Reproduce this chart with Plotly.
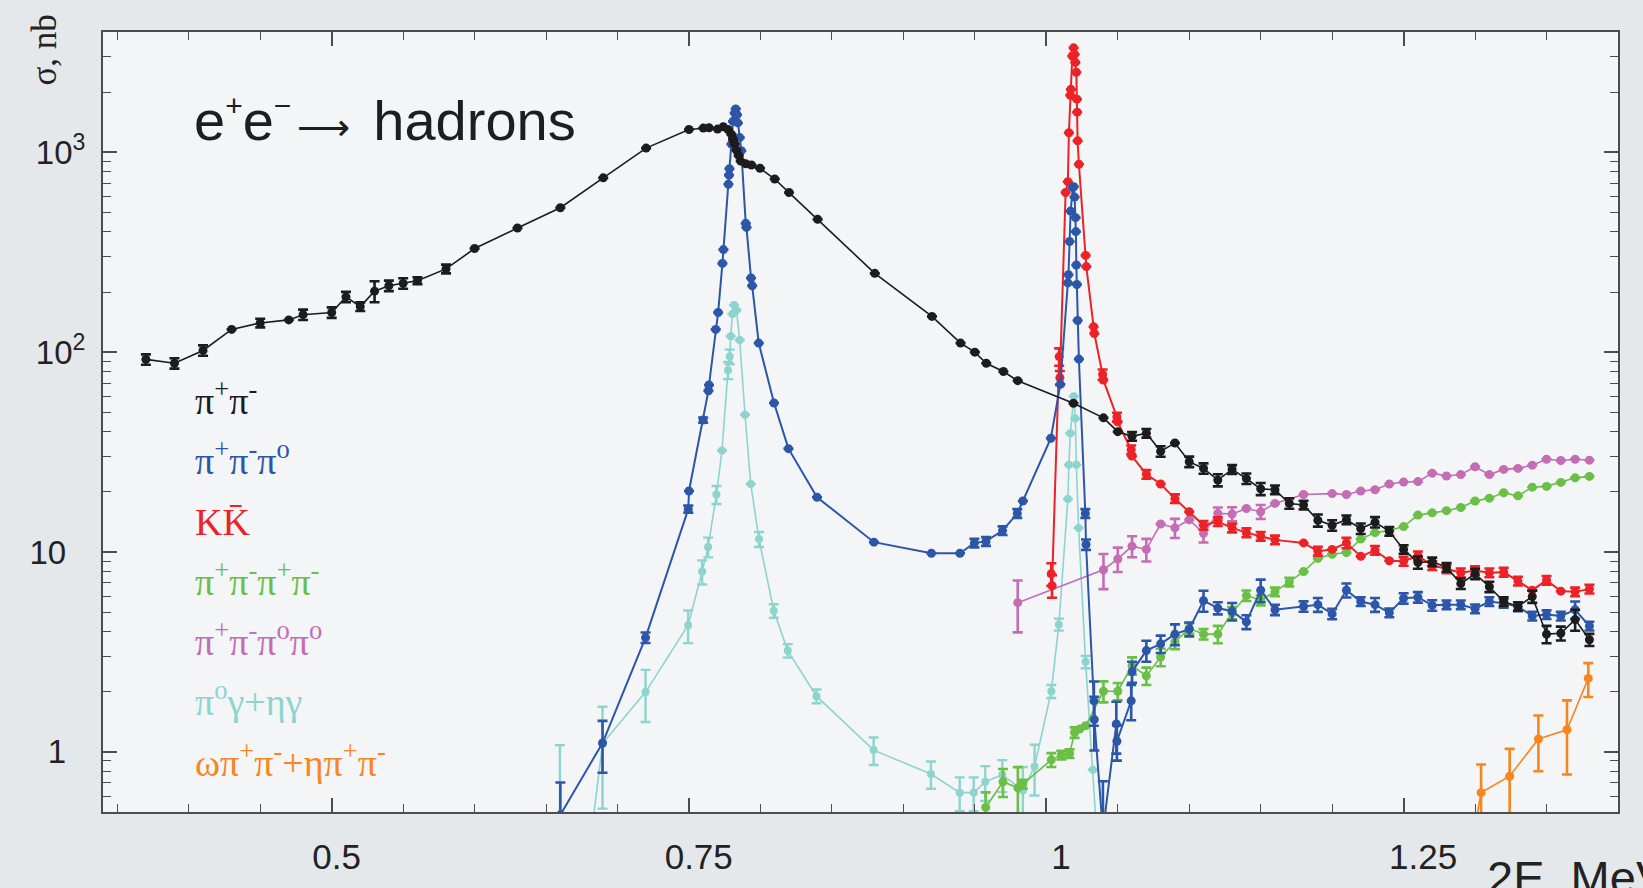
import plotly.graph_objects as go

# ---------------- data ----------------
# pi+ pi-  (black)
x_pipi = [0.37, 0.39, 0.41, 0.43, 0.45, 0.47, 0.48, 0.50, 0.51, 0.52, 0.53, 0.54, 0.55, 0.56, 0.58,
          0.60, 0.63, 0.66, 0.69, 0.72,
          0.75, 0.76, 0.764, 0.770, 0.774, 0.7773, 0.7797, 0.7808, 0.7820, 0.7832, 0.7848, 0.7862,
          0.7897, 0.7937, 0.7997, 0.810, 0.820,
          0.84, 0.88, 0.92, 0.94, 0.95, 0.958, 0.97, 0.98, 1.019, 1.04, 1.05,
          1.06, 1.07, 1.08, 1.09, 1.10, 1.11, 1.12, 1.13, 1.14, 1.15, 1.16, 1.17, 1.18, 1.19, 1.20,
          1.21, 1.22, 1.23, 1.24, 1.25, 1.26, 1.27, 1.28, 1.29, 1.30, 1.31, 1.32, 1.33, 1.34, 1.35,
          1.36, 1.37, 1.38]
y_pipi = [92, 88, 102, 130, 140, 145, 154, 158, 189, 169, 202, 215, 221, 228, 261, 330, 418, 528, 745, 1050,
          1300, 1322, 1327, 1307, 1342, 1301, 1230, 1162, 1099, 1026, 963, 904, 877, 864, 832, 735, 629,
          462, 248, 151, 111, 100, 88, 80, 72, 55.5, 46.9, 40.0,
          37.9, 39.3, 31.9, 35.1, 28.3, 26.2, 22.9, 25.9, 23.3, 20.7, 20.5, 17.5, 17.2, 14.4, 13.6,
          14.5, 13.1, 14.1, 12.7, 10.3, 8.87, 8.93, 8.39, 6.95, 7.78, 6.70, 5.65, 5.34, 5.98, 3.88,
          3.92, 4.59, 3.64]
relerr_pipi = [0.06, 0.06, 0.06, 0, 0.05, 0, 0.06, 0.06, 0.06, 0.05, 0.12, 0.06, 0.06, 0.04, 0.05,
               0, 0, 0, 0, 0,
               0, 0, 0, 0, 0, 0, 0, 0, 0, 0, 0, 0, 0, 0, 0, 0, 0,
               0, 0, 0, 0, 0, 0, 0, 0, 0, 0, 0,
               0.05, 0.05, 0.06, 0, 0.06, 0.06, 0.07, 0.05, 0.06, 0.07, 0.05, 0.06, 0.05, 0.07, 0.06,
               0.05, 0.06, 0.06, 0.05, 0.05, 0.07, 0.05, 0.05, 0.06, 0.06, 0.06, 0.05, 0.05, 0.07, 0.10,
               0.08, 0.12, 0.07]

# pi+ pi- pi0  (blue)
x_3pi = [0.660, 0.6895, 0.7196, 0.7495, 0.7500, 0.7599, 0.7636, 0.7640, 0.7687, 0.7704, 0.7734, 0.7741,
         0.7776, 0.7780, 0.7783, 0.7797, 0.7808, 0.7820, 0.7827, 0.7836, 0.7842, 0.7855, 0.7866,
         0.7897, 0.7902, 0.7934, 0.7942, 0.7988, 0.8095, 0.8196, 0.8396, 0.8794, 0.9196, 0.9396,
         0.9497, 0.9578, 0.9694, 0.9797, 0.9836, 1.0032, 1.0098,
         1.0151, 1.0155, 1.0163, 1.0170, 1.0186, 1.0192, 1.0198, 1.0205, 1.0207, 1.0210, 1.0214,
         1.0219, 1.0228, 1.0273, 1.0278, 1.0333, 1.0336, 1.0396, 1.0490, 1.0494, 1.0594, 1.0600,
         1.07, 1.08, 1.09, 1.10, 1.11, 1.12, 1.13, 1.14, 1.15, 1.16, 1.18, 1.19, 1.20, 1.21, 1.22,
         1.23, 1.24, 1.25, 1.26, 1.27, 1.28, 1.29, 1.30, 1.31, 1.32, 1.33, 1.34, 1.35, 1.36, 1.37, 1.38]
y_3pi = [0.484, 1.107, 3.73, 16.4, 20.2, 45.7, 64.1, 68.5, 130, 158, 278, 326,
         692, 769, 828, 1099, 1429, 1571, 1649, 1541, 1403, 1185, 1019,
         441, 421, 235, 215, 111, 55.7, 32.9, 18.8, 11.2, 9.86, 9.86,
         11.1, 11.3, 12.8, 15.6, 18.0, 37.1, 69.0,
         222, 244, 358, 508, 666, 673, 597, 471, 401, 273, 218,
         144, 92.3, 15.6, 10.9, 1.80, 1.45, 0.40, 1.38, 1.13, 1.80, 2.52,
         3.21, 3.47, 3.88, 4.11, 5.71, 5.24, 5.05, 4.47, 6.44, 5.14, 5.34, 5.45, 4.90, 6.44, 5.65,
         5.45, 4.96, 5.87, 5.94, 5.41, 5.45, 5.45, 5.20, 5.65, 5.54, 5.34, 4.78, 4.86, 4.78, 5.14, 4.26]
relerr_3pi = [0.45, 0.29, 0.06, 0.04, 0, 0.03, 0, 0, 0, 0, 0, 0,
              0, 0, 0, 0, 0, 0, 0, 0, 0, 0, 0,
              0, 0, 0, 0, 0, 0, 0, 0, 0, 0, 0,
              0.05, 0.05, 0.05, 0.05, 0, 0, 0,
              0, 0, 0, 0, 0, 0, 0, 0, 0, 0, 0,
              0, 0, 0.05, 0.06, 0.25, 0.30, 0.78, 0.29, 0.20, 0.20, 0.12,
              0.12, 0.10, 0.12, 0.08, 0.12, 0.07, 0.10, 0.08, 0.13, 0.06, 0.06, 0.08, 0.06, 0.08, 0.05,
              0.08, 0.05, 0.06, 0.06, 0.06, 0.05, 0.05, 0.05, 0.05, 0.05, 0.05, 0.05, 0.05, 0.05, 0.10, 0.05]

# K Kbar  (red)
x_kk = [1.0035, 1.0040, 1.0090, 1.0095, 1.0135, 1.0151, 1.0158, 1.0168, 1.0172, 1.0182, 1.0191, 1.0198,
        1.0203, 1.0210, 1.0214, 1.0216, 1.0219, 1.0228, 1.0275, 1.0280, 1.0331, 1.0336, 1.0394, 1.0399,
        1.0494, 1.0499, 1.0594, 1.0599,
        1.07, 1.08, 1.09, 1.10, 1.11, 1.12, 1.13, 1.14, 1.15, 1.16, 1.18, 1.19, 1.20, 1.21, 1.22,
        1.23, 1.24, 1.25, 1.26, 1.27, 1.28, 1.29, 1.30, 1.31, 1.32, 1.33, 1.34, 1.35, 1.36, 1.37, 1.38]
y_kk = [7.78, 6.78, 95, 74.5, 629, 713, 1253, 1931, 2066, 3034, 3334, 3090,
        2818, 2517, 1845, 1588, 1141, 871, 305, 268, 134, 124, 77.3, 72.6,
        47.4, 44.8, 32.5, 30.2,
        24.5, 21.9, 18.5, 15.9, 13.6, 14.2, 13.2, 12.5, 12.0, 11.5, 11.1, 10.1, 10.3, 11.1, 9.51,
        10.2, 9.04, 8.98, 9.58, 8.55, 8.24, 7.87, 8.07, 7.87, 7.93, 7.16, 6.44, 7.22, 6.37, 6.32, 6.52]
relerr_kk = [0.13, 0.13, 0.10, 0.08, 0, 0, 0, 0, 0, 0, 0, 0,
             0, 0, 0, 0, 0, 0, 0, 0, 0, 0, 0.06, 0,
             0.05, 0, 0.05, 0,
             0.05, 0, 0.05, 0, 0.05, 0.05, 0.05, 0.05, 0.05, 0.05, 0, 0.05, 0, 0.06, 0,
             0.05, 0, 0.05, 0.05, 0.05, 0.05, 0.05, 0.05, 0.05, 0.05, 0.05, 0, 0.05, 0, 0.05, 0.05]

# pi+ pi- pi+ pi-  (green)
x_4pic = [0.9576, 0.9697, 0.9801, 0.9836, 1.0035, 1.0105, 1.0163, 1.0198, 1.0233, 1.0275,
          1.04, 1.05, 1.06, 1.07, 1.08, 1.09, 1.10, 1.11, 1.12, 1.13, 1.14, 1.15, 1.16, 1.17,
          1.18, 1.19, 1.20, 1.21, 1.22, 1.23, 1.24, 1.25, 1.26, 1.27, 1.28, 1.29, 1.30, 1.31,
          1.32, 1.33, 1.34, 1.35, 1.36, 1.37, 1.38]
y_4pic = [0.527, 0.708, 0.660, 0.69, 0.912, 0.964, 0.98, 1.25, 1.30, 1.35,
          2.01, 2.01, 2.70, 2.40, 2.98, 3.55, 4.15, 3.88, 3.88, 4.95, 6.05, 5.75, 6.32, 7.08,
          7.98, 9.29, 9.75, 9.94, 11.6, 12.5, 12.8, 13.4, 15.3, 15.7, 16.1, 16.7, 18.0, 18.6,
          19.8, 19.1, 21.1, 21.3, 22.3, 23.5, 23.9]
relerr_4pic = [0.19, 0.16, 0.27, 0.05, 0.08, 0.05, 0.05, 0.06, 0, 0,
               0.12, 0.10, 0.10, 0.10, 0.10, 0.08, 0.06, 0.06, 0.10, 0.07, 0.06, 0.06, 0.05, 0.05,
               0, 0, 0, 0, 0, 0, 0, 0, 0, 0, 0, 0, 0, 0,
               0, 0, 0, 0, 0, 0, 0]

# pi+ pi- pi0 pi0  (magenta)
x_4pin = [0.98, 1.04, 1.05, 1.06, 1.07, 1.08, 1.09, 1.10, 1.11, 1.12, 1.13, 1.14, 1.15, 1.16,
          1.18, 1.20, 1.21, 1.22, 1.23, 1.24, 1.25, 1.26, 1.27, 1.28, 1.29, 1.30, 1.31, 1.32,
          1.33, 1.34, 1.35, 1.36, 1.37, 1.38]
y_4pin = [5.58, 8.15, 9.23, 10.7, 10.3, 13.8, 13.2, 14.5, 12.4, 15.6, 15.5, 16.5, 15.9, 17.5,
          19.4, 19.6, 19.4, 20.2, 20.5, 21.9, 22.4, 22.5, 24.8, 24.0, 24.4, 26.7, 24.4, 25.9,
          26.2, 27.2, 29.1, 28.7, 29.1, 28.8]
relerr_4pin = [0.29, 0.20, 0.14, 0.12, 0.13, 0, 0.11, 0, 0.10, 0.07, 0.08, 0, 0.08, 0,
               0, 0, 0, 0, 0, 0, 0, 0, 0, 0, 0, 0, 0, 0,
               0, 0, 0, 0, 0, 0]

# pi0 gamma + eta gamma  (cyan)
x_gam = [0.6597, 0.6895, 0.7196, 0.7494, 0.7592, 0.7634, 0.7692, 0.7731, 0.7773, 0.7785,
         0.7792, 0.7804, 0.7815, 0.7832, 0.7855, 0.7892, 0.7932, 0.7990, 0.8093, 0.8191,
         0.8392, 0.8792, 0.9193, 0.9394, 0.9492, 0.9573, 0.9692, 0.9836, 0.9918, 1.0035,
         1.0088, 1.0151, 1.0158, 1.0168, 1.0193, 1.0203, 1.0210, 1.0226, 1.0275, 1.0326, 1.0370]
y_gam = [0.02, 1.10, 1.99, 4.30, 7.98, 10.6, 19.4, 32.2, 81.3, 95,
         120, 155, 172, 162, 115, 48.6, 21.9, 11.6, 5.08, 3.21,
         1.90, 1.02, 0.774, 0.625, 0.625, 0.708, 0.769, 0.64, 0.845, 2.01,
         4.34, 18.4, 27.3, 39.3, 60.1, 46.6, 27.3, 13.2, 2.82, 0.813, 0.25]
abserr_gam = [1.06, 0.58, 0.58, 0.8, 1.1, 1.2, 2.0, 0, 8, 8,
              0, 0, 0, 0, 0, 0, 0, 1.0, 0.4, 0.25,
              0.15, 0.16, 0.12, 0.12, 0.12, 0.14, 0.14, 0.2, 0.24, 0.15,
              0.3, 0, 0, 0, 0, 0, 0, 0, 0.2, 0, 0]

# omega pi+ pi- + eta pi+ pi-  (orange)
x_om = [1.29, 1.3042, 1.3242, 1.3443, 1.3643, 1.3792]
y_om = [0.17, 0.625, 0.755, 1.16, 1.29, 2.33]
abserr_om = [0, 0.24, 0.28, 0.36, 0.52, 0.45]

# axis ticks
HIDE = "<span style='color:rgba(0,0,0,0)'>{}</span>"
x_major = [0.5, 0.75, 1.0, 1.25]
x_major_text = [HIDE.format(".") + "0.5", HIDE.format("0") + "0.75",
                HIDE.format("0.") + "1", HIDE.format("00") + "1.25"]
y_major = [1, 10, 100, 1000]
y_major_text = ["1<sup>" + HIDE.format("0.") + "</sup>", "10<sup>" + HIDE.format("0.") + "</sup>",
                "10<sup>2</sup>", "10<sup>3</sup>"]

SUPS = "<sup><span style='font-size:30px'>{}</span></sup>"
title_text = ("e" + SUPS.format("+") + "e" + SUPS.format("−") +
              "<span style='font-size:20px'> </span>"
              "<span style='font-family:DejaVu Sans;font-size:37px'>⟶</span>"
              " <span style='font-size:28px'>\u00a0</span>hadrons")

legend_labels = ["π<sup>+</sup>π<sup>-</sup>",
                 "π<sup>+</sup>π<sup>-</sup>π<sup>o</sup>",
                 "KK\u0304",
                 "π<sup>+</sup>π<sup>-</sup>π<sup>+</sup>π<sup>-</sup>",
                 "π<sup>+</sup>π<sup>-</sup>π<sup>o</sup>π<sup>o</sup>",
                 "π<sup>o</sup>γ+ηγ",
                 "ωπ<sup>+</sup>π<sup>-</sup>+ηπ<sup>+</sup>π<sup>-</sup>"]

# ---------------- styling ----------------
C_BLACK = "#1c1c1c"
C_BLUE = "#2c56a8"
C_RED = "#ec2227"
C_GREEN = "#6abf45"
C_MAG = "#c46cb4"
C_CYAN = "#8dd4cf"
C_ORANGE = "#f7861f"
legend_colors = [C_BLACK, C_BLUE, C_RED, C_GREEN, C_MAG, C_CYAN, C_ORANGE]


def err_from_rel(y, rel):
    plus = [v * r for v, r in zip(y, rel)]
    minus = [min(p, 0.95 * v) for p, v in zip(plus, y)]
    return plus, minus


def err_from_abs(y, ab):
    minus = [min(p, 0.95 * v) for p, v in zip(ab, y)]
    return list(ab), minus


def series(x, y, plus, minus, color, lw, ms, ethick, ewidth):
    return go.Scatter(
        x=x, y=y, mode="lines+markers",
        line=dict(color=color, width=lw),
        marker=dict(color=color, size=ms, line=dict(width=0)),
        error_y=dict(type="data", symmetric=False, array=plus, arrayminus=minus,
                     color=color, thickness=ethick, width=ewidth),
        showlegend=False, hoverinfo="skip",
    )


fig = go.Figure()

p, m = err_from_abs(y_om, abserr_om)
fig.add_trace(series(x_om, y_om, p, m, C_ORANGE, 1.6, 9, 2.6, 5))
p, m = err_from_abs(y_gam, abserr_gam)
fig.add_trace(series(x_gam, y_gam, p, m, C_CYAN, 1.6, 8, 2.4, 5))
p, m = err_from_rel(y_4pin, relerr_4pin)
fig.add_trace(series(x_4pin, y_4pin, p, m, C_MAG, 1.6, 9, 2.6, 5))
p, m = err_from_rel(y_4pic, relerr_4pic)
fig.add_trace(series(x_4pic, y_4pic, p, m, C_GREEN, 1.6, 9, 2.6, 5))
p, m = err_from_rel(y_kk, relerr_kk)
fig.add_trace(series(x_kk, y_kk, p, m, C_RED, 2.0, 9, 2.6, 5))
p, m = err_from_rel(y_3pi, relerr_3pi)
fig.add_trace(series(x_3pi, y_3pi, p, m, C_BLUE, 2.0, 9, 2.6, 5))
p, m = err_from_rel(y_pipi, relerr_pipi)
fig.add_trace(series(x_pipi, y_pipi, p, m, C_BLACK, 1.6, 9, 2.6, 5))

AX = "#4d4d4d"
XTICKFONT = dict(family="Liberation Sans, Arial, sans-serif", size=35, color="#222222")
YTICKFONT = dict(family="Liberation Sans, Arial, sans-serif", size=33, color="#222222")

x_minor = [round(0.35 + 0.05 * i, 2) for i in range(22)]
x_minor = [v for v in x_minor if all(abs(v - t) > 1e-6 for t in x_major)]
y_minor = [m_ * 10 ** e for e in range(-1, 4) for m_ in range(2, 10)]
y_minor = [v for v in y_minor if 0.5 <= v <= 4000 and v not in y_major]

fig.update_xaxes(
    range=[0.34, 1.40], showgrid=False, zeroline=False,
    showline=True, linecolor=AX, linewidth=2, mirror="ticks",
    ticks="inside", ticklen=14, tickwidth=1.5, tickcolor=AX,
    tickvals=x_major, ticktext=x_major_text, tickfont=XTICKFONT,
    ticklabelstandoff=13,
    minor=dict(tickvals=x_minor, ticks="inside", ticklen=8, tickwidth=1.3,
               tickcolor=AX, showgrid=False),
)
fig.update_yaxes(
    type="log", range=[-0.30103, 3.60206], showgrid=False, zeroline=False,
    showline=True, linecolor=AX, linewidth=2, mirror="ticks",
    ticks="inside", ticklen=14, tickwidth=1.5, tickcolor=AX,
    tickvals=y_major, ticktext=y_major_text, tickfont=YTICKFONT,
    ticklabelstandoff=9,
    minor=dict(tickvals=y_minor, ticks="inside", ticklen=8, tickwidth=1.3,
               tickcolor=AX, showgrid=False),
)

annotations = []
# title inside plot
annotations.append(dict(
    text=title_text, xref="paper", yref="paper",
    x=0.0585, y=0.8442, xanchor="left", yanchor="bottom", showarrow=False,
    font=dict(family="Liberation Sans, Arial, sans-serif", size=56, color="#1e1e1e")))
# legend-like labels
leg_y = [0.4972, 0.4200, 0.3427, 0.2655, 0.1882, 0.1109, 0.0337]
for txt, col, yy in zip(legend_labels, legend_colors, leg_y):
    annotations.append(dict(
        text=txt, xref="paper", yref="paper", x=0.0597, y=yy,
        xanchor="left", yanchor="bottom", showarrow=False,
        font=dict(family="Liberation Serif, Times New Roman, serif", size=38, color=col)))
# axis titles
annotations.append(dict(
    text="σ, nb", xref="paper", yref="paper", x=-0.0383, y=0.9774,
    xanchor="center", yanchor="middle", textangle=-90, showarrow=False,
    font=dict(family="Liberation Serif, Times New Roman, serif", size=35, color="#222222")))
annotations.append(dict(
    text="2E, MeV", xref="paper", yref="paper", x=0.9125, y=-0.048,
    xanchor="left", yanchor="top", showarrow=False,
    font=dict(family="Liberation Sans, Arial, sans-serif", size=47, color="#222222")))

fig.update_layout(
    width=1643, height=888,
    margin=dict(l=103, r=25, t=32, b=60),
    paper_bgcolor="#e4e8eb", plot_bgcolor="#f3f5f7",
    annotations=annotations,
    showlegend=False,
)

fig.write_html("out.html")
